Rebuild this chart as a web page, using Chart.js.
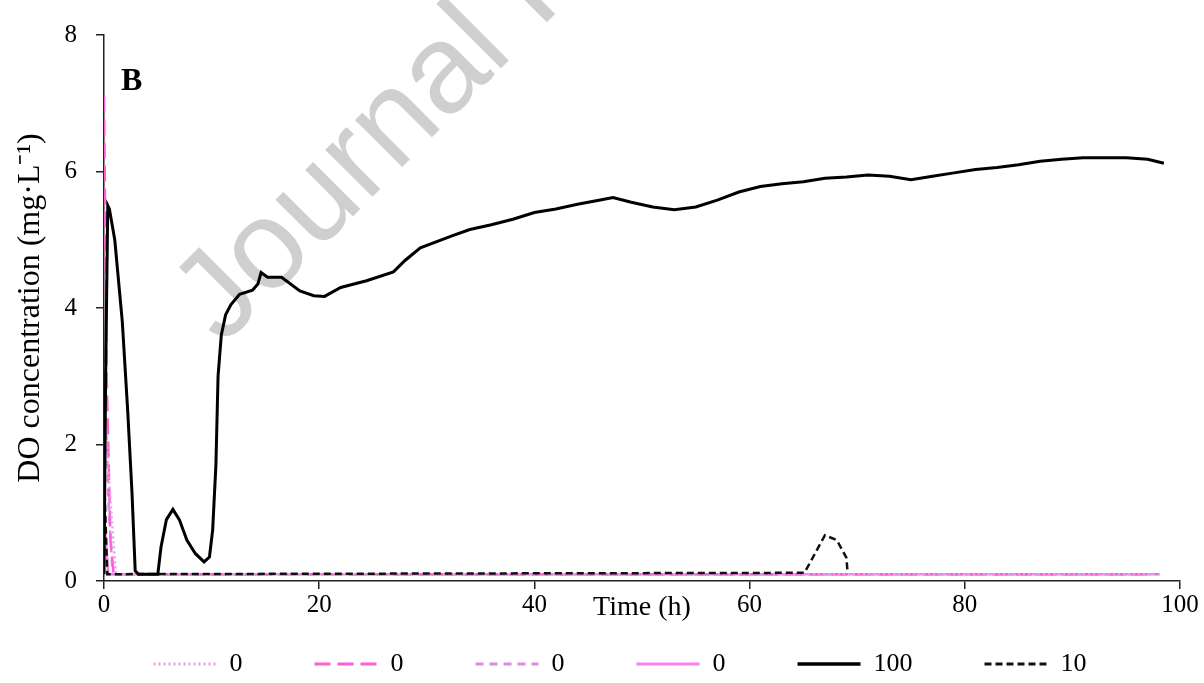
<!DOCTYPE html>
<html>
<head>
<meta charset="utf-8">
<script src="https://cdn.jsdelivr.net/npm/chart.js@4.4.1/dist/chart.umd.min.js"></script>
<style>
body { margin: 0; background: #fff; }
#chart-container { width: 1204px; height: 683px; }
</style>
</head>
<body>
<div id="chart-container"><canvas id="graphCanvas"></canvas></div>
<script>
// DO concentration (mg/L) against time (h)
var hours100 = [0, 0.15, 0.35, 0.5, 1.0, 1.7, 2.2, 2.6, 2.9, 3.2, 5.0, 5.3, 5.8, 6.4, 7.0, 7.7, 8.5, 9.3, 9.8, 10.1, 10.4, 10.6, 10.9, 11.3, 11.8, 12.6, 13.8, 14.3, 14.6, 15.2, 16.5, 18.2, 19.5, 20.5, 22, 24.4, 26.9, 28, 29.4, 32.4, 34, 36, 38, 40, 42, 44, 46, 47.3, 49, 51, 53, 55, 57, 59, 61, 63, 65, 67, 69, 71, 73, 75, 77, 79, 81, 83, 85, 87, 89, 91, 93, 95, 97, 98.5];
var do100 = [0.1, 3.0, 5.5, 5.45, 5.0, 3.8, 2.5, 1.3, 0.15, 0.1, 0.1, 0.5, 0.9, 1.05, 0.9, 0.6, 0.4, 0.28, 0.35, 0.75, 1.7, 3.0, 3.6, 3.9, 4.05, 4.2, 4.26, 4.35, 4.52, 4.45, 4.45, 4.25, 4.18, 4.17, 4.3, 4.4, 4.53, 4.7, 4.88, 5.06, 5.15, 5.22, 5.3, 5.4, 5.45, 5.52, 5.58, 5.62, 5.55, 5.48, 5.44, 5.48, 5.58, 5.7, 5.78, 5.82, 5.85, 5.9, 5.92, 5.95, 5.93, 5.88, 5.93, 5.98, 6.03, 6.06, 6.1, 6.15, 6.18, 6.2, 6.2, 6.2, 6.18, 6.12];

var hours10 = [0, 0.3, 65.1, 67.0, 68.1, 69.0, 69.1];
var do10 = [1.6, 0.1, 0.12, 0.67, 0.6, 0.34, 0.13];

var hoursDot = [0, 0.5, 1.1, 98.2];
var doDot = [2.7, 1.4, 0.1, 0.1];
var hoursLong = [0, 0.25, 0.6, 0.9, 98];
var doLong = [7.1, 3.0, 0.6, 0.1, 0.1];
var hoursShort = [0, 0.4, 0.8, 97.5];
var doShort = [3.2, 1.2, 0.1, 0.1];
var hoursSolid = [0, 0.4, 97];
var doSolid = [1.0, 0.1, 0.1];

var legendNames = ['0', '0', '0', '0', '100', '10'];
var xTicks = [0, 20, 40, 60, 80, 100];
var yTicks = [0, 2, 4, 6, 8];
var watermark = 'Journal Pre-proof';

function toPoints(xs, ys) {
  var pts = [];
  for (var ii = 0; ii < xs.length; ii++) {
    pts.push({x: xs[ii], y: ys[ii]});
  }
  return pts;
}

var serif = '"Liberation Serif", "Times New Roman", serif';
Chart.defaults.font.family = serif;
Chart.defaults.color = '#000';

var panelText = {
  id: 'panelText',
  beforeDraw: function(chart) {
    var ctx = chart.ctx;
    ctx.save();
    ctx.translate(198, 322);
    ctx.rotate(-45 * Math.PI / 180);
    ctx.font = '126px "Liberation Sans", Arial, sans-serif';
    ctx.fillStyle = '#cfcfcf';
    ctx.fillText(watermark, 0, 0);
    ctx.restore();
  },
  afterDraw: function(chart) {
    var ctx = chart.ctx;
    ctx.save();
    ctx.font = 'bold 32px ' + serif;
    ctx.fillStyle = '#000';
    ctx.fillText('B', 121, 82);
    ctx.restore();
  }
};

// the legend only gets a short slot in the layout, then is moved so its wide
// item spacing (labels.padding) does not eat the plot height
var legendPlace = {
  id: 'legendPlace',
  afterLayout: function(chart) {
    chart.legend.top = 579;
    chart.legend.bottom = chart.height;
    chart.legend.left = 60;
  }
};

var chartdata = {
  datasets: [
    { label: legendNames[0], data: toPoints(hoursDot, doDot), borderColor: '#e4a2e4', borderWidth: 2.5, borderDash: [2, 3], order: 2 },
    { label: legendNames[1], data: toPoints(hoursLong, doLong), borderColor: '#ff5fd6', borderWidth: 2.5, borderDash: [16, 7], order: 3 },
    { label: legendNames[2], data: toPoints(hoursShort, doShort), borderColor: '#d98ce0', borderWidth: 2.5, borderDash: [8, 6], order: 4 },
    { label: legendNames[3], data: toPoints(hoursSolid, doSolid), borderColor: '#ff80f0', borderWidth: 2.5, order: 5 },
    { label: legendNames[4], data: toPoints(hours100, do100), borderColor: '#000', borderWidth: 3, order: 0 },
    { label: legendNames[5], data: toPoints(hours10, do10), borderColor: '#111', borderWidth: 2.5, borderDash: [7, 4], order: 1 }
  ]
};

var graphTarget = document.getElementById('graphCanvas');
var lineGraph = new Chart(graphTarget, {
  type: 'line',
  data: chartdata,
  plugins: [panelText, legendPlace],
  options: {
    responsive: true,
    maintainAspectRatio: false,
    animation: false,
    elements: { point: { radius: 0 }, line: { tension: 0, fill: false } },
    layout: { padding: { left: 38, top: 35, right: 24, bottom: 0 } },
    plugins: {
      tooltip: { enabled: false },
      legend: {
        position: 'bottom',
        maxHeight: 57,
        labels: {
          usePointStyle: true,
          pointStyle: 'line',
          pointStyleWidth: 63,
          padding: 72,
          color: '#000',
          font: { size: 26 },
          sort: function(a, b) { return a.datasetIndex - b.datasetIndex; },
          generateLabels: function(chart) {
            var items = Chart.defaults.plugins.legend.labels.generateLabels(chart);
            items.forEach(function(it) {
              var ds = chart.data.datasets[it.datasetIndex];
              it.lineDash = ds.borderDash || [];
              it.lineWidth = ds.borderWidth + 0.5;
              it.strokeStyle = ds.borderColor;
              it.pointStyle = 'line';
            });
            return items;
          }
        }
      }
    },
    scales: {
      x: {
        type: 'linear',
        min: 0, max: 100,
        afterFit: function(scale) { scale.height = 45; },
        afterBuildTicks: function(scale) { scale.ticks = xTicks.map(function(v) { return {value: v}; }); },
        border: { color: '#222', width: 1.5 },
        grid: { drawOnChartArea: false, drawTicks: true, tickLength: 8, color: '#222', lineWidth: 1.5 },
        ticks: { padding: 1, font: { size: 25 }, color: '#000', maxRotation: 0 },
        title: { display: true, text: 'Time (h)', font: { size: 28 }, color: '#000', padding: { top: 0, bottom: 2 } }
      },
      y: {
        min: 0, max: 8,
        afterFit: function(scale) { scale.width = 66; },
        afterBuildTicks: function(scale) { scale.ticks = yTicks.map(function(v) { return {value: v}; }); },
        border: { color: '#222', width: 1.5 },
        grid: { drawOnChartArea: false, drawTicks: true, tickLength: 8, color: '#222', lineWidth: 1.5 },
        ticks: { padding: 19, font: { size: 25 }, color: '#000' },
        title: { display: true, text: 'DO concentration (mg·L⁻¹)', font: { size: 32 }, color: '#000', padding: { top: -27, bottom: 0 } }
      }
    }
  }
});
</script>
</body>
</html>
